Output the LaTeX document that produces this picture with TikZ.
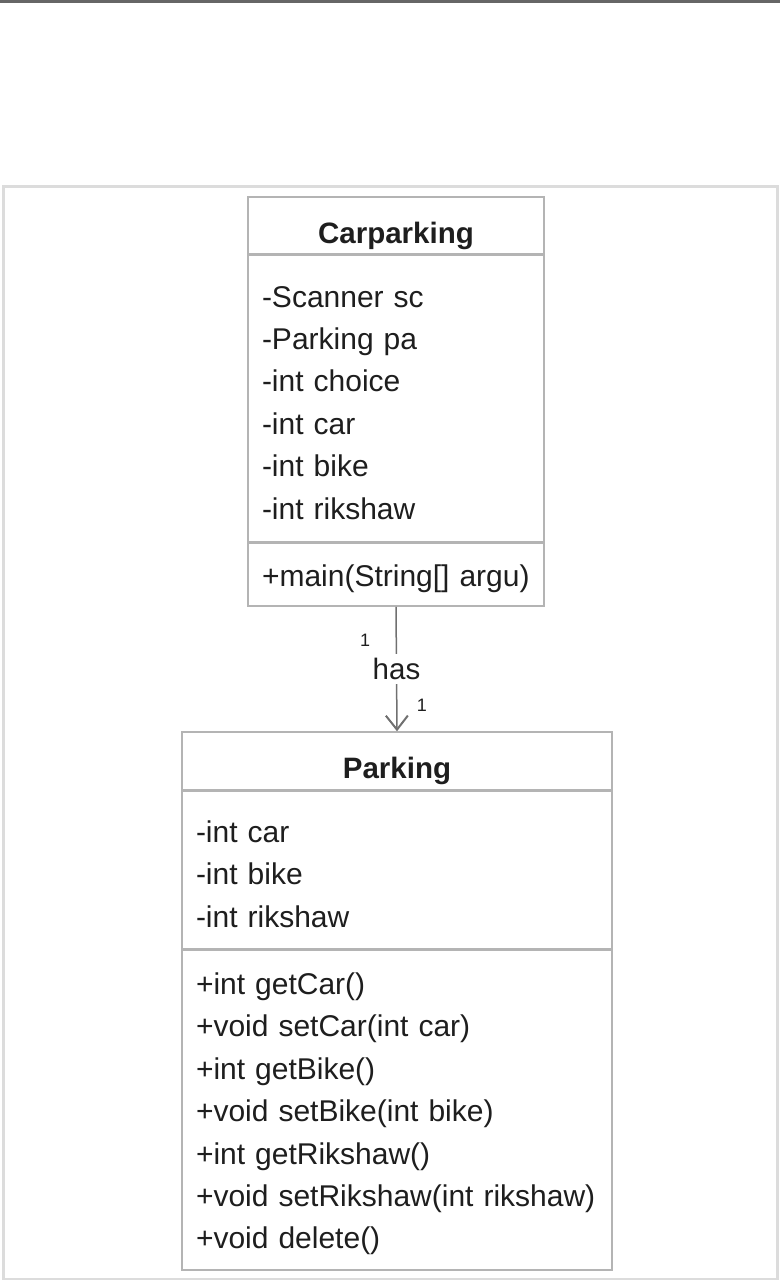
\documentclass[tikz,border=0pt]{standalone}
\usepackage{fontspec}
\setmainfont{Liberation Sans}
\usetikzlibrary{positioning,arrows.meta}
\definecolor{boxline}{HTML}{B4B4B4}
\definecolor{panelline}{HTML}{DCDCDC}
\definecolor{linkline}{HTML}{707070}
\definecolor{inktext}{HTML}{1E1E1E}
\tikzset{every picture/.style={line width=1.5pt}}

\begin{document}
\begin{tikzpicture}[x=1pt,y=1pt,yscale=-1,xscale=1,
  classhead/.style={draw=boxline, fill=white, inner sep=0pt, text=inktext,
    text height=35pt, text depth=0pt,
    font=\fontsize{29.5}{35}\selectfont\bfseries},
  classpart/.style={draw=boxline, fill=white, inner xsep=14pt, inner ysep=0pt,
    align=left, text=inktext, font=\fontsize{30}{42.4}\selectfont,
    execute at begin node={\rule{0pt}{29.5pt}}},
  assoc/.style={draw=linkline, line width=1.5pt},
  multlabel/.style={font=\fontsize{18}{20}\selectfont, text=inktext, inner sep=0pt}]
%set diagram to the page, 780 by 1280
\useasboundingbox (0,0) rectangle (780,1280);

%Shape: top bar
\fill [fill={rgb,255:red,102;green,102;blue,102}] (0,0) rectangle (780,3);
%Shape: panel
\draw [panelline, line width=3pt] (3,186) rectangle (777,1279);

%Class Carparking
\node [classhead, minimum width=296pt, minimum height=57pt] (carhead) at (396,225.5) {Carparking};
\node [classpart, below=0pt of carhead, minimum height=286pt, text width=268pt] (carattr) {-Scanner sc\\-Parking pa\\-int choice\\-int car\\-int bike\\-int rikshaw};
\node [classpart, below=0pt of carattr, minimum height=63pt, text width=268pt] (carmeth) {+main(String[] argu)};

%Class Parking
\node [classhead, minimum width=430pt, minimum height=58pt] (parkhead) at (397,761) {Parking};
\node [classpart, below=0pt of parkhead, minimum height=157pt, text width=402pt] (parkattr) {-int car\\-int bike\\-int rikshaw};
\node [classpart, below=0pt of parkattr, minimum height=320pt, text width=402pt] (parkmeth) {+int getCar()\\+void setCar(int car)\\+int getBike()\\+void setBike(int bike)\\+int getRikshaw()\\+void setRikshaw(int rikshaw)\\+void delete()};

%Association
\draw [assoc, -{Straight Barb[length=14pt,width=22pt,line width=2pt]}] (carmeth.south) -- node [fill=white, text=inktext, font=\fontsize{29.5}{35}\selectfont, inner xsep=2pt, inner ysep=4pt] (haslabel) {has} (parkhead.north);
\node [multlabel, left=25pt of carmeth.south, yshift=-34pt] (multsrc) {1};
\node [multlabel, right=19pt of parkhead.north, yshift=26pt] (multdst) {1};

\end{tikzpicture}
\end{document}
